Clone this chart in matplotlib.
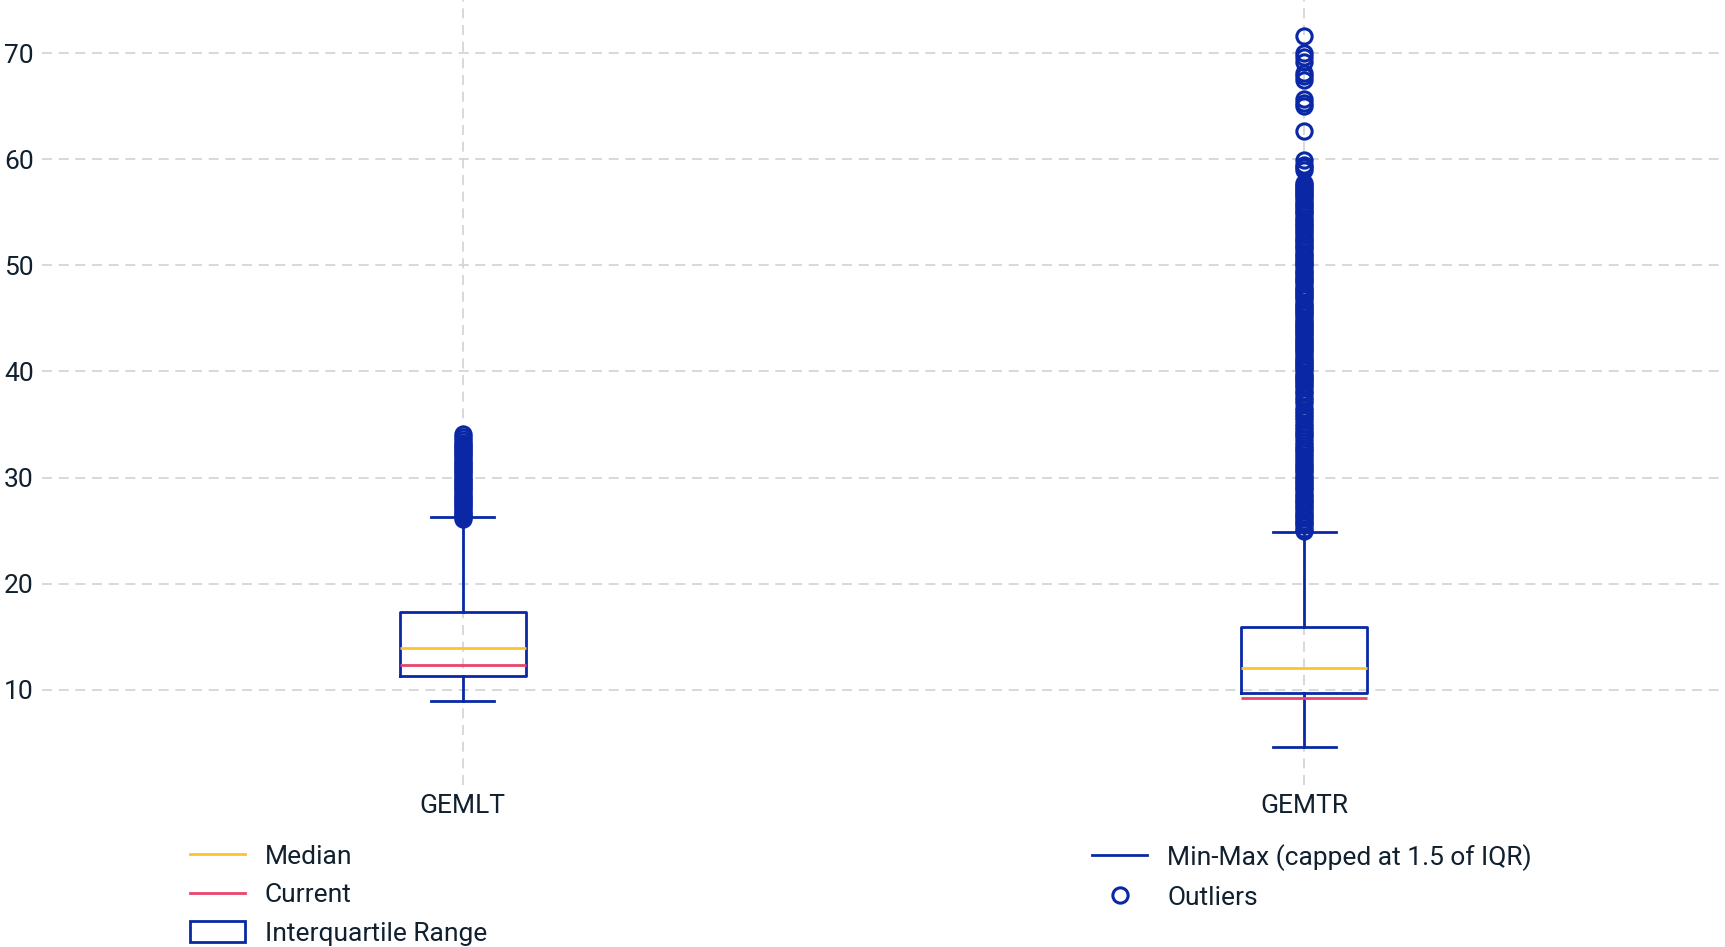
import matplotlib.pyplot as plt
from matplotlib.lines import Line2D
from matplotlib.patches import Patch

plt.rcParams['font.family'] = ['Roboto', 'DejaVu Sans']

# box statistics
categories = ["GEMLT", "GEMTR"]
whisker_low = [8.96, 4.61]
q1 = [11.35, 9.69]
median = [13.94, 12.07]
q3 = [17.36, 15.91]
whisker_high = [26.27, 24.92]
current = [12.38, 9.27]

gemlt_outliers = [26.1, 26.3, 26.5, 26.7, 26.9, 27.1, 27.3, 27.5, 27.7, 27.9,
                  28.1, 28.3, 28.5, 28.7, 28.9, 29.1, 29.3, 29.5, 29.7, 29.9,
                  30.1, 30.3, 30.5, 30.7, 30.9, 31.1, 31.3, 31.5, 31.7, 31.9,
                  32.1, 32.3, 32.5, 32.7, 32.9, 33.1, 33.3, 33.5, 33.8, 34.1]

gemtr_outliers = [25.0, 25.2, 25.5, 25.7, 25.9, 26.2, 26.4, 26.6, 26.9, 27.1,
                  27.3, 27.6, 27.8, 28.0, 28.3, 28.5, 28.8, 29.0, 29.2, 29.5,
                  29.7, 30.0, 30.2, 30.5, 30.7, 31.0, 31.2, 31.5, 31.8, 32.0,
                  32.3, 32.6, 32.8, 33.1, 33.4, 33.7, 34.0, 34.2, 34.5, 34.8,
                  35.1, 35.4, 35.7, 36.0, 36.3, 36.6, 37.0, 37.3, 37.6, 38.0,
                  38.2, 38.5, 38.7, 39.0, 39.2, 39.4, 39.6, 39.8, 40.1, 40.3,
                  40.5, 40.7, 40.9, 41.1, 41.3, 41.6, 41.8, 42.0, 42.2, 42.4,
                  42.6, 42.8, 43.0, 43.2, 43.4, 43.6, 43.8, 44.0, 44.2, 44.4,
                  44.6, 44.8, 45.0, 45.3, 45.5, 45.7, 45.9, 46.1, 46.3, 46.5,
                  46.8, 47.0, 47.2, 47.4, 47.6, 47.8, 48.0, 48.3, 48.5, 48.7,
                  48.9, 49.2, 49.4, 49.6, 49.9, 50.1, 50.3, 50.5, 50.8, 51.0,
                  51.2, 51.5, 51.7, 51.9, 52.2, 52.4, 52.6, 52.9, 53.1, 53.3,
                  53.6, 53.8, 54.0, 54.3, 54.5, 54.8, 55.0, 55.2, 55.5, 55.7,
                  55.9, 56.2, 56.4, 56.6, 56.8, 57.0, 57.2, 57.4, 57.6, 57.8,
                  59.0, 59.3, 59.5, 59.9, 62.7, 65.0, 65.3, 65.7, 67.5, 67.8,
                  68.1, 69.2, 69.6, 70.0, 71.6]

outliers = [gemlt_outliers, gemtr_outliers]
yticks = [10, 20, 30, 40, 50, 60, 70]

BLUE = '#0a28a6'
YELLOW = '#ffc32a'
RED = '#e8456a'
TEXT = '#10202f'
GRID = '#d2d2d2'

stats = []
for i, name in enumerate(categories):
    stats.append({
        'label': name,
        'whislo': whisker_low[i],
        'q1': q1[i],
        'med': median[i],
        'q3': q3[i],
        'whishi': whisker_high[i],
        'fliers': outliers[i],
    })

fig = plt.figure(figsize=(17.25, 9.47), dpi=100)
ax = fig.add_axes([0.0244, 0.1706, 0.9756, 0.8294])

positions = list(range(len(categories)))
box_w = 0.15
ax.bxp(stats, positions=positions, widths=box_w, capwidths=box_w / 2,
       boxprops=dict(color=BLUE, linewidth=2),
       whiskerprops=dict(color=BLUE, linewidth=2),
       capprops=dict(color=BLUE, linewidth=2),
       medianprops=dict(color=YELLOW, linewidth=2),
       flierprops=dict(marker='o', markerfacecolor='none', markeredgecolor=BLUE,
                       markersize=11, markeredgewidth=2.2),
       zorder=3)

# current value lines
for p, c in zip(positions, current):
    ax.hlines(c, p - box_w / 2, p + box_w / 2, color=RED, linewidth=2, zorder=4)

ax.set_xlim(-0.5, 1.5)
ax.set_ylim(1, 75)
ax.set_yticks(yticks)
ax.set_xticks(positions)
ax.set_xticklabels(categories)
ax.grid(True, color=GRID, linestyle=(0, (6, 4)), linewidth=1.2, zorder=0)
ax.set_axisbelow(True)
for s in ax.spines.values():
    s.set_visible(False)
ax.tick_params(length=0, labelsize=19, labelcolor=TEXT)
ax.tick_params(axis='x', pad=6)
ax.tick_params(axis='y', pad=6)

leg_kw = dict(frameon=False, fontsize=19, handlelength=2.1, handletextpad=0.75,
              labelspacing=0.53, handleheight=0.85, labelcolor=TEXT,
              borderaxespad=0, borderpad=0)

left_handles = [Line2D([], [], color=YELLOW, linewidth=2),
                Line2D([], [], color=RED, linewidth=2),
                Patch(facecolor='white', edgecolor=BLUE, linewidth=2)]
left_labels = ['Median', 'Current', 'Interquartile Range']
fig.legend(left_handles, left_labels, loc='upper left',
           bbox_to_anchor=(0.110, 0.1087), **leg_kw)

right_handles = [Line2D([], [], color=BLUE, linewidth=2),
                 Line2D([], [], color=BLUE, linestyle='none', marker='o',
                        markerfacecolor='none', markersize=11, markeredgewidth=2.2)]
right_labels = ['Min-Max (capped at 1.5 of IQR)', 'Outliers']
fig.legend(right_handles, right_labels, loc='upper left',
           bbox_to_anchor=(0.633, 0.1087), **leg_kw)

fig.savefig('out.png', dpi=100)
